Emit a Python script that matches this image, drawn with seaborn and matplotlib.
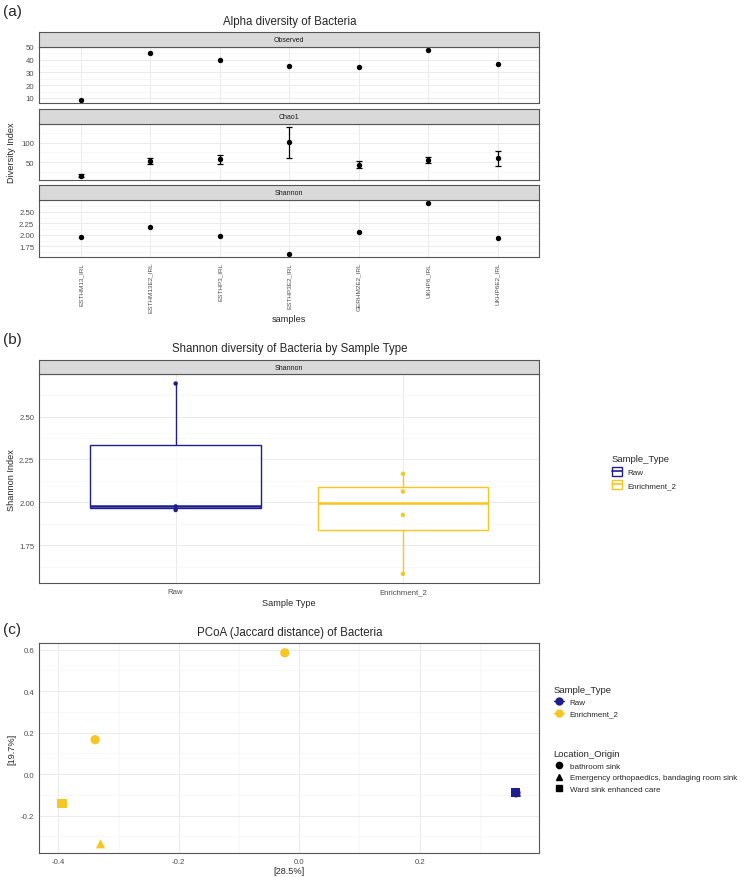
import numpy as np
import pandas as pd
import matplotlib
matplotlib.use("Agg")
import matplotlib.pyplot as plt
import seaborn as sns
from matplotlib.lines import Line2D
from matplotlib.patches import Patch
from matplotlib.ticker import MultipleLocator, FixedLocator, FormatStrFormatter

# ---- data ----
samples = ["ESTHM13_IRL", "ESTHM13E2_IRL", "ESTHP3_IRL", "ESTHP3E2_IRL",
           "GERHM2E2_IRL", "UKHP6_IRL", "UKHP6E2_IRL"]
sample_type = ["Raw", "Enrichment_2", "Raw", "Enrichment_2",
               "Enrichment_2", "Raw", "Enrichment_2"]
location = ["Ward sink enhanced care", "Ward sink enhanced care",
            "Emergency orthopaedics, bandaging room sink", "Emergency orthopaedics, bandaging room sink",
            "bathroom sink", "bathroom sink", "bathroom sink"]
observed = [8, 45, 40, 35, 34, 48, 37]
chao1 = [15, 53, 57, 101, 44, 55, 60]
chao1_se = [4, 7, 12, 40, 9, 7, 19]
shannon = [1.956, 2.167, 1.977, 1.585, 2.064, 2.692, 1.927]
pc1 = [0.359, -0.394, 0.361, -0.330, -0.339, 0.360, -0.024]
pc2 = [-0.088, -0.140, -0.086, -0.335, 0.166, -0.090, 0.584]

types = ["Raw", "Enrichment_2"]
locs = ["bathroom sink", "Emergency orthopaedics, bandaging room sink", "Ward sink enhanced care"]
pal = {"Raw": "#1E1E8C", "Enrichment_2": "#F7C623"}
markers = {"bathroom sink": "o", "Emergency orthopaedics, bandaging room sink": "^",
           "Ward sink enhanced care": "s"}

df_a = pd.DataFrame({"samples": samples, "Observed": observed, "Chao1": chao1,
                     "se.chao1": chao1_se, "Shannon": shannon})
df_b = pd.DataFrame({"Sample_Type": sample_type, "Shannon": shannon})
df_c = pd.DataFrame({"PC1": pc1, "PC2": pc2, "Sample_Type": sample_type,
                     "Location_Origin": location})
# draw order: circle, square, triangle on top
df_c = df_c.iloc[[5, 4, 6, 0, 1, 2, 3]]

sns.set_style("white")
plt.rcParams["font.family"] = ["Liberation Sans", "DejaVu Sans"]
plt.rcParams["axes.unicode_minus"] = False

W_PX, H_PX = 746, 878
fig = plt.figure(figsize=(W_PX / 100, H_PX / 100), dpi=100)

L = 39.3 / W_PX
W = 500 / W_PX
XC = (39.3 + 539.3) / 2 / W_PX
TICK = 5.6
LAB = 6.6


def fy(px):
    return 1 - px / H_PX


def panel(top, bottom):
    ax = fig.add_axes([L, fy(bottom), W, (bottom - top) / H_PX])
    for s in ax.spines.values():
        s.set_color("#555555")
        s.set_linewidth(0.8)
    ax.set_axisbelow(True)
    ax.tick_params(labelsize=TICK, labelcolor="#4D4D4D", color="#333333",
                   length=2.2, width=0.5, pad=1.5)
    ax.tick_params(which="minor", length=0)
    return ax


def strip(top, bottom, label):
    ax = fig.add_axes([L, fy(bottom), W, (bottom - top) / H_PX])
    ax.set_facecolor("#D9D9D9")
    ax.set_xticks([])
    ax.set_yticks([])
    for s in ax.spines.values():
        s.set_color("#555555")
        s.set_linewidth(0.8)
    ax.text(0.5, 0.5, label, transform=ax.transAxes, ha="center", va="center",
            fontsize=5.0, color="#1A1A1A")


def grids(ax, minor_x=True):
    ax.grid(True, which="major", color="#EBEBEB", linewidth=0.7)
    ax.grid(True, which="minor", axis="y", color="#F2F2F2", linewidth=0.4)
    if minor_x:
        ax.grid(True, which="minor", axis="x", color="#F2F2F2", linewidth=0.4)


def expand(vals, f=0.05):
    lo, hi = min(vals), max(vals)
    d = (hi - lo) * f
    return lo - d, hi + d


# ---- (a) alpha diversity ----
fig.text(0.004, fy(12), "(a)", fontsize=11, va="center")
fig.text(XC, fy(22), "Alpha diversity of Bacteria", fontsize=8.3, ha="center", va="center")

ax_obs = panel(48, 104)
strip(32.7, 48, "Observed")
sns.scatterplot(data=df_a, x="samples", y="Observed", color="black", s=15,
                linewidth=0, ax=ax_obs)
ax_obs.set_ylim(*expand(observed))
ax_obs.yaxis.set_major_locator(MultipleLocator(10))
ax_obs.yaxis.set_minor_locator(MultipleLocator(5))

ax_chao = panel(125, 181)
strip(110, 125, "Chao1")
ax_chao.errorbar(df_a["samples"], df_a["Chao1"], yerr=df_a["se.chao1"], fmt="none",
                 ecolor="black", elinewidth=0.9, capsize=2.4, capthick=0.9)
sns.scatterplot(data=df_a, x="samples", y="Chao1", color="black", s=15,
                linewidth=0, ax=ax_chao)
lo_c = [c - e for c, e in zip(chao1, chao1_se)]
hi_c = [c + e for c, e in zip(chao1, chao1_se)]
ax_chao.set_ylim(*expand(lo_c + hi_c))
ax_chao.yaxis.set_major_locator(FixedLocator([50, 100]))
ax_chao.yaxis.set_minor_locator(FixedLocator([25, 75, 125]))

ax_sh = panel(201.3, 257.7)
strip(186, 201.3, "Shannon")
sns.scatterplot(data=df_a, x="samples", y="Shannon", color="black", s=15,
                linewidth=0, ax=ax_sh)
ax_sh.set_ylim(*expand(shannon))
ax_sh.yaxis.set_major_locator(MultipleLocator(0.25))
ax_sh.yaxis.set_minor_locator(MultipleLocator(0.125))
ax_sh.yaxis.set_major_formatter(FormatStrFormatter("%.2f"))

for ax in (ax_obs, ax_chao, ax_sh):
    ax.set_xlim(-0.6, len(samples) - 0.4)
    ax.set_xlabel("")
    ax.set_ylabel("")
    grids(ax, minor_x=False)
for ax in (ax_obs, ax_chao):
    ax.tick_params(axis="x", length=0, labelbottom=False)
ax_sh.tick_params(axis="x", labelrotation=90, labelsize=4.6)

fig.text(12 / W_PX, fy(153), "Diversity Index", rotation=90, fontsize=LAB,
         ha="center", va="center")
fig.text(XC, fy(319), "samples", fontsize=LAB, ha="center", va="center")

# ---- (b) Shannon by sample type ----
fig.text(0.004, fy(340), "(b)", fontsize=11, va="center")
fig.text(XC, fy(349), "Shannon diversity of Bacteria by Sample Type", fontsize=8.3,
         ha="center", va="center")
ax_b = panel(375, 584.3)
strip(361, 375, "Shannon")
sns.stripplot(data=df_b, x="Sample_Type", y="Shannon", hue="Sample_Type", order=types,
              palette=pal, jitter=False, size=3.2, linewidth=0, legend=False, ax=ax_b)
for st in types:
    sns.boxplot(data=df_b[df_b["Sample_Type"] == st], x="Sample_Type", y="Shannon",
                order=types, color=pal[st], linecolor=pal[st], width=0.75,
                showcaps=False, showfliers=False, linewidth=1.0,
                boxprops={"facecolor": (1, 1, 1, 0.72)},
                medianprops={"linewidth": 1.8}, ax=ax_b)
ax_b.set_xlim(-0.6, 1.6)
ax_b.set_ylim(*expand(shannon))
ax_b.yaxis.set_major_locator(MultipleLocator(0.25))
ax_b.yaxis.set_minor_locator(MultipleLocator(0.125))
ax_b.yaxis.set_major_formatter(FormatStrFormatter("%.2f"))
ax_b.set_xlabel("")
ax_b.set_ylabel("")
grids(ax_b, minor_x=False)
ax_b.xaxis.grid(True, color="#EBEBEB", linewidth=0.7)
fig.text(12 / W_PX, fy(480), "Shannon Index", rotation=90, fontsize=LAB,
         ha="center", va="center")
fig.text(XC, fy(603), "Sample Type", fontsize=LAB, ha="center", va="center")

box_handles = [(Patch(facecolor="white", edgecolor=pal[t], linewidth=1.0),
                Line2D([0], [0], color=pal[t], linewidth=1.2)) for t in types]
leg_b = fig.legend(box_handles, types, title="Sample_Type", loc="upper left",
                   bbox_to_anchor=(0.82, fy(455)), frameon=False, alignment="left",
                   fontsize=5.8, title_fontsize=6.8, handlelength=1.3, handleheight=1.3,
                   handletextpad=0.7, borderpad=0, borderaxespad=0, labelspacing=0.5)

# ---- (c) PCoA ----
fig.text(0.004, fy(630), "(c)", fontsize=11, va="center")
fig.text(XC, fy(633), "PCoA (Jaccard distance) of Bacteria", fontsize=8.3,
         ha="center", va="center")
ax_c = panel(644.3, 854.3)
sns.scatterplot(data=df_c, x="PC1", y="PC2", hue="Sample_Type", style="Location_Origin",
                palette=pal, markers=markers, s=44, linewidth=0, legend=False, ax=ax_c)
ax_c.set_xlim(*expand(pc1))
ax_c.set_ylim(*expand(pc2))
ax_c.xaxis.set_major_locator(MultipleLocator(0.2))
ax_c.xaxis.set_minor_locator(MultipleLocator(0.1))
ax_c.yaxis.set_major_locator(MultipleLocator(0.2))
ax_c.yaxis.set_minor_locator(MultipleLocator(0.1))
ax_c.xaxis.set_major_formatter(FormatStrFormatter("%.1f"))
ax_c.yaxis.set_major_formatter(FormatStrFormatter("%.1f"))
ax_c.set_xlabel("")
ax_c.set_ylabel("")
grids(ax_c)
fig.text(12 / W_PX, fy(749), "[19.7%]", rotation=90, fontsize=LAB,
         ha="center", va="center")
fig.text(XC, fy(872), "[28.5%]", fontsize=LAB, ha="center", va="center")

st_handles = [Line2D([0], [0], color=pal[t], marker="o", markersize=5, linewidth=1.0)
              for t in types]
leg_c1 = fig.legend(st_handles, types, title="Sample_Type", loc="upper left",
                    bbox_to_anchor=(0.742, fy(686)), frameon=False, alignment="left",
                    fontsize=5.8, title_fontsize=6.8, handlelength=1.3,
                    handletextpad=0.7, borderpad=0, borderaxespad=0, labelspacing=0.5)
loc_handles = [Line2D([0], [0], color="black", marker=markers[m], linestyle="none",
                      markersize=4.5) for m in locs]
leg_c2 = fig.legend(loc_handles, locs, title="Location_Origin", loc="upper left",
                    bbox_to_anchor=(0.742, fy(750)), frameon=False, alignment="left",
                    fontsize=5.8, title_fontsize=6.8, handlelength=1.3,
                    handletextpad=0.7, borderpad=0, borderaxespad=0, labelspacing=0.5)

fig.savefig("out.png", dpi=100)
